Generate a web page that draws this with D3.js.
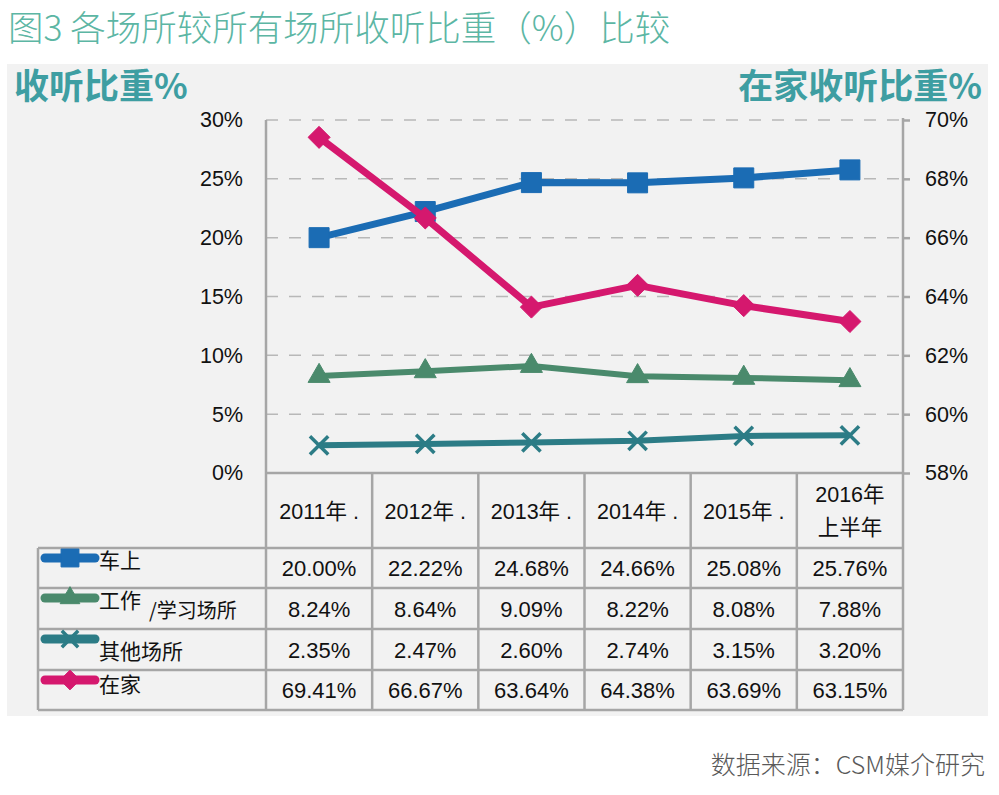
<!DOCTYPE html>
<html>
<head>
<meta charset="utf-8">
<script src="https://cdn.jsdelivr.net/npm/d3@7"></script>
<style>
  body { margin: 0; background: #fff; }
  svg { display: block; font-family: "Liberation Sans", "Noto Sans CJK SC", sans-serif; }
</style>
</head>
<body>
<svg id="chart"></svg>
<script>
const years = ["2011年 .", "2012年 .", "2013年 .", "2014年 .", "2015年 .", "2016年|上半年"];
const carValues = [20.00, 22.22, 24.68, 24.66, 25.08, 25.76];
const workValues = [8.24, 8.64, 9.09, 8.22, 8.08, 7.88];
const otherValues = [2.35, 2.47, 2.60, 2.74, 3.15, 3.20];
const homeValues = [69.41, 66.67, 63.64, 64.38, 63.69, 63.15];
const leftTicks = [0, 5, 10, 15, 20, 25, 30];
const rightTicks = [58, 60, 62, 64, 66, 68, 70];

const series = [
    { name: "车上", extra: null, values: carValues, color: "#1b6cb4", axis: "left", symbol: d3.symbolSquare, size: 400, width: 7 },
    { name: "工作", extra: "/学习场所", values: workValues, color: "#4a8a6c", axis: "left", symbol: d3.symbolTriangle, size: 210, width: 6 },
    { name: "其他场所", extra: null, values: otherValues, color: "#2c7c86", axis: "left", symbol: d3.symbolX, size: 220, width: 6 },
    { name: "在家", extra: null, values: homeValues, color: "#d5186e", axis: "right", symbol: d3.symbolDiamond2, size: 310, width: 7 }
];

const W = 999, H = 795;
const plot = { left: 266, right: 903, top: 120, bottom: 473 };
const rowH = [548, 588, 629, 670, 710];
const legendLeft = 38;
const gridColor = "#a6a6a6";
const numFont = "'Liberation Sans', 'Noto Sans CJK SC', sans-serif";
const cjkFont = "'Noto Sans CJK SC', sans-serif";

const svg = d3.select("#chart").attr("width", W).attr("height", H);

svg.append("rect")
    .attr("x", 7).attr("y", 64)
    .attr("width", 981).attr("height", 652)
    .attr("fill", "#f2f2f2");

svg.append("text")
    .attr("x", 8).attr("y", 41)
    .attr("fill", "#5cb6a4")
    .style("font-family", cjkFont)
    .style("font-weight", 300)
    .style("font-size", "35.5px")
    .text("图3 各场所较所有场所收听比重（%）比较");

svg.append("text")
    .attr("x", 14).attr("y", 99)
    .attr("fill", "#3e9ea2")
    .style("font-family", cjkFont)
    .style("font-weight", "bold")
    .style("font-size", "35px")
    .text("收听比重%");

svg.append("text")
    .attr("x", 982).attr("y", 99)
    .attr("text-anchor", "end")
    .attr("fill", "#3e9ea2")
    .style("font-family", cjkFont)
    .style("font-weight", "bold")
    .style("font-size", "35px")
    .text("在家收听比重%");

const x = d3.scaleBand().domain(years).range([plot.left, plot.right]).paddingInner(0).paddingOuter(0);
const cx = d => x(d) + x.bandwidth() / 2;
const yL = d3.scaleLinear().domain([0, 30]).range([plot.bottom, plot.top]);
const yR = d3.scaleLinear().domain([58, 70]).range([plot.bottom, plot.top]);

// dashed gridlines
svg.append("g")
    .selectAll("line")
    .data(leftTicks.filter(d => d > 0))
    .join("line")
    .attr("x1", plot.left).attr("x2", plot.right)
    .attr("y1", d => yL(d)).attr("y2", d => yL(d))
    .attr("stroke", "#b8b8b8")
    .attr("stroke-width", 1.5)
    .attr("stroke-dasharray", "12,11");

// left axis labels
const leftAxis = svg.append("g")
    .attr("transform", `translate(${plot.left},0)`)
    .call(d3.axisLeft(yL).tickValues(leftTicks).tickFormat(d => d + "%").tickSize(0).tickPadding(23));
leftAxis.select(".domain").remove();
leftAxis.attr("font-family", null).attr("font-size", null);
leftAxis.selectAll("text").style("font-family", numFont).style("font-size", "21.5px").attr("fill", "#111");

// right axis
const rightAxis = svg.append("g")
    .attr("transform", `translate(${plot.right},0)`)
    .call(d3.axisRight(yR).tickValues(rightTicks).tickFormat(d => d + "%").tickSize(7).tickPadding(15));
rightAxis.select(".domain").remove();
rightAxis.attr("font-family", null).attr("font-size", null);
rightAxis.selectAll(".tick line").attr("stroke", gridColor).attr("stroke-width", 2.5);
rightAxis.selectAll("text").style("font-family", numFont).style("font-size", "21.5px").attr("fill", "#111");

// table grid
const grid = svg.append("g").attr("stroke", gridColor).attr("stroke-width", 2.5).attr("fill", "none");
grid.append("line").attr("x1", plot.left).attr("x2", plot.left).attr("y1", plot.top).attr("y2", rowH[4]);
grid.append("line").attr("x1", plot.right).attr("x2", plot.right).attr("y1", plot.top - 2).attr("y2", rowH[4]);
grid.append("line").attr("x1", plot.left).attr("x2", plot.right).attr("y1", plot.bottom).attr("y2", plot.bottom);
grid.selectAll(".col")
    .data(years.slice(1))
    .join("line")
    .attr("x1", d => x(d)).attr("x2", d => x(d))
    .attr("y1", plot.bottom).attr("y2", rowH[4]);
grid.selectAll(".row")
    .data(rowH)
    .join("line")
    .attr("x1", legendLeft).attr("x2", plot.right)
    .attr("y1", d => d).attr("y2", d => d);
grid.append("line").attr("x1", legendLeft).attr("x2", legendLeft).attr("y1", rowH[0]).attr("y2", rowH[4]);

// header labels
const header = svg.append("g")
    .style("font-family", numFont)
    .style("font-size", "21.5px")
    .attr("fill", "#111")
    .attr("text-anchor", "middle");
years.forEach(yr => {
    const parts = yr.split("|");
    const t = header.append("text").attr("x", cx(yr));
    if (parts.length === 1) {
        t.attr("y", 519).text(parts[0]);
    } else {
        t.append("tspan").attr("x", cx(yr)).attr("y", 502).text(parts[0]);
        t.append("tspan").attr("x", cx(yr)).attr("y", 535).text(parts[1]);
    }
});

// lines and markers
const lineGroup = svg.append("g");
series.forEach(s => {
    const yS = s.axis === "left" ? yL : yR;
    const line = d3.line().x((d, i) => cx(years[i])).y(d => yS(d));
    lineGroup.append("path")
        .datum(s.values)
        .attr("fill", "none")
        .attr("stroke", s.color)
        .attr("stroke-width", s.width)
        .attr("stroke-linejoin", "round")
        .attr("d", line);
    const sym = d3.symbol().type(s.symbol).size(s.size);
    const isX = s.symbol === d3.symbolX;
    lineGroup.selectAll(null)
        .data(s.values)
        .join("path")
        .attr("transform", (d, i) => `translate(${cx(years[i])},${yS(d)})`)
        .attr("d", sym)
        .attr("fill", isX ? "none" : s.color)
        .attr("stroke", s.color)
        .attr("stroke-width", isX ? 3.5 : 1)
        .attr("stroke-linejoin", "round");
});

// table body: legend + values
series.forEach((s, r) => {
    const top = rowH[r], bottom = rowH[r + 1];
    const ly = top + 10;
    svg.append("line")
        .attr("x1", 45).attr("x2", 95)
        .attr("y1", ly).attr("y2", ly)
        .attr("stroke", s.color)
        .attr("stroke-width", 9)
        .attr("stroke-linecap", "round");
    const isX = s.symbol === d3.symbolX;
    svg.append("path")
        .attr("transform", `translate(70,${ly})`)
        .attr("d", d3.symbol().type(s.symbol).size(s.size * 0.8))
        .attr("fill", isX ? "none" : s.color)
        .attr("stroke", s.color)
        .attr("stroke-width", isX ? 3.5 : 1);
    svg.append("text")
        .attr("x", 99)
        .attr("y", r === 3 ? top + 22 : (r === 2 ? top + 30 : top + 20))
        .attr("fill", "#111")
        .style("font-family", cjkFont)
        .style("font-size", "21px")
        .text(s.name);
    if (s.extra) {
        svg.append("text")
            .attr("x", 149).attr("y", top + 30)
            .attr("fill", "#111")
            .style("font-family", cjkFont)
            .style("font-size", "20px")
            .text(s.extra);
    }
    svg.append("g")
        .selectAll("text")
        .data(s.values)
        .join("text")
        .attr("x", (d, i) => cx(years[i]))
        .attr("y", (top + bottom) / 2 + 8)
        .attr("text-anchor", "middle")
        .attr("fill", "#111")
        .style("font-family", numFont)
        .style("font-size", "22px")
        .text(d => d.toFixed(2) + "%");
});

svg.append("text")
    .attr("x", 985).attr("y", 774)
    .attr("text-anchor", "end")
    .attr("fill", "#595959")
    .style("font-family", cjkFont)
    .style("font-weight", 300)
    .style("font-size", "25px")
    .text("数据来源：CSM媒介研究");
</script>
</body>
</html>
